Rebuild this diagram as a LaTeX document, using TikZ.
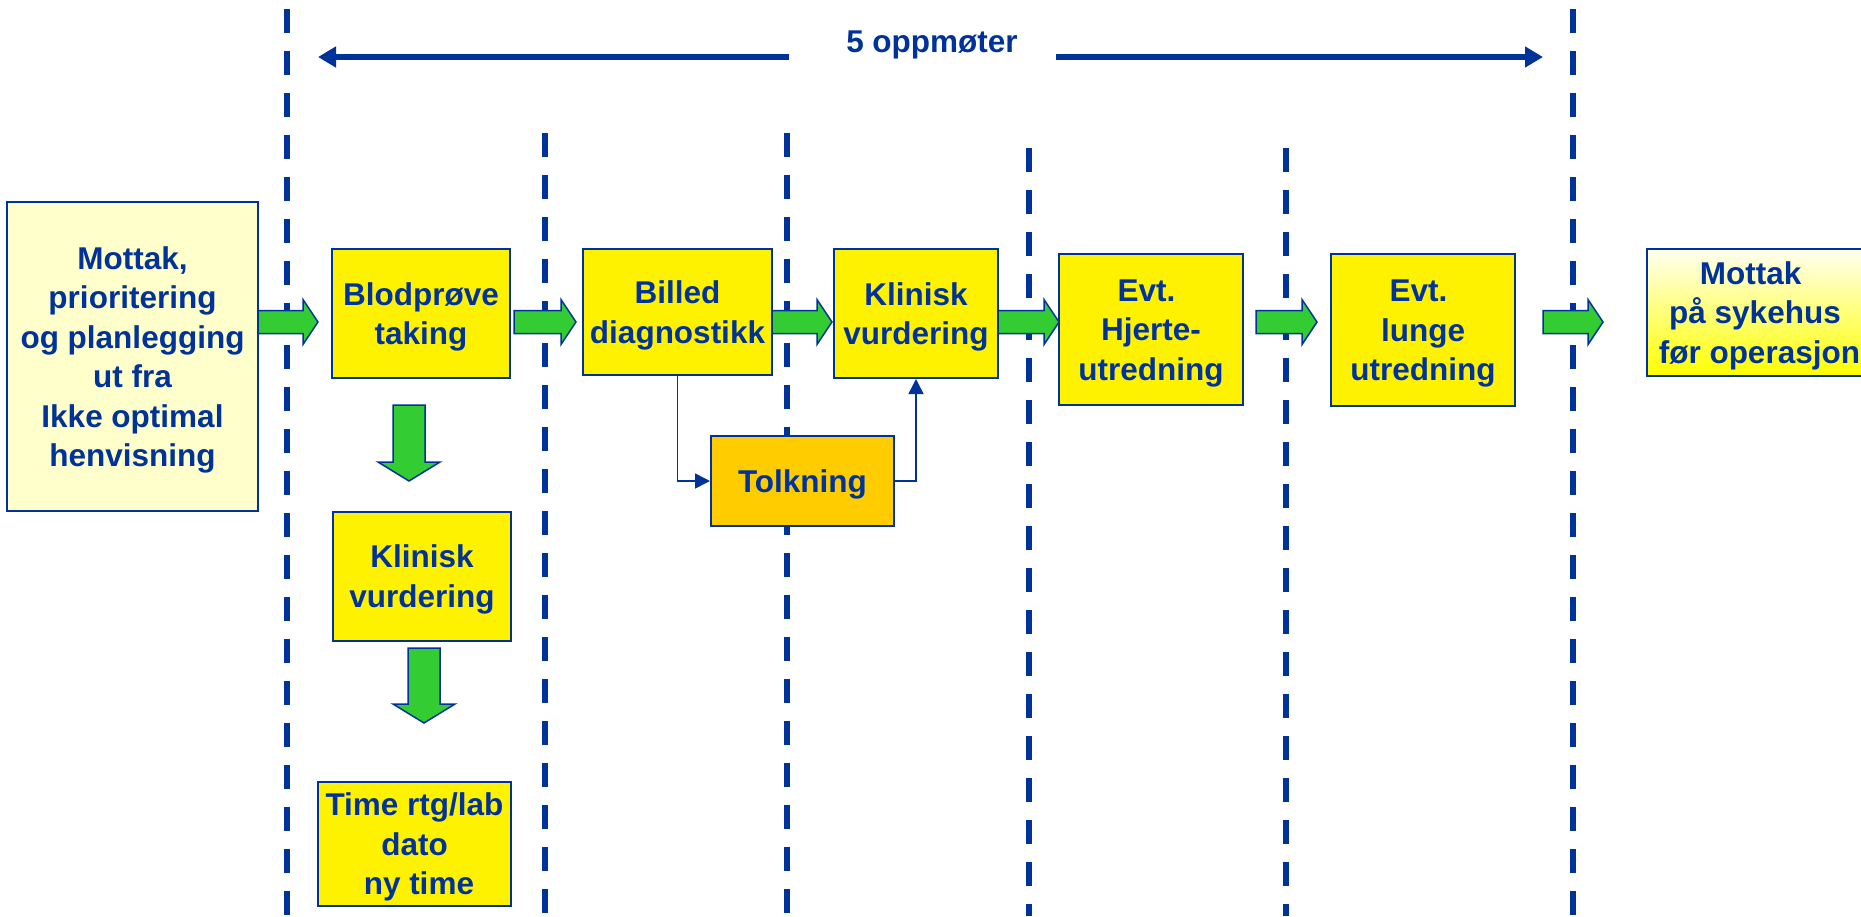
\documentclass[tikz,border=0pt]{standalone}
\usepackage{fontspec}
\setmainfont{Liberation Sans}
\usetikzlibrary{arrows.meta,calc}
\definecolor{navy}{RGB}{0,51,153}
\definecolor{grn}{RGB}{51,204,51}
\definecolor{pale}{RGB}{255,255,204}
\definecolor{orng}{RGB}{255,204,0}
\newcommand\tst{\rule{0pt}{29.5pt}}
\newcommand\bst{\rule[-6.7pt]{0pt}{0pt}}
\tikzset{
  box/.style={draw=navy, line width=2pt, fill=yellow, inner sep=0pt, align=center, text=navy,
    font=\fontsize{31.5}{39.5}\selectfont\bfseries},
  dline/.style={draw=navy, line width=6pt, dash pattern=on 24pt off 18pt},
  garrow/.style={fill=grn, draw=navy, line width=1.5pt, line join=miter},
  conn/.style={draw=navy, line width=1.5pt, -{Triangle[length=15pt,width=15pt]}},
  topar/.style={draw=navy, line width=6pt, -{Triangle[length=18pt,width=20pt]}},
  lbl/.style={text=navy, inner sep=0pt, font=\fontsize{31.5}{39.5}\selectfont\bfseries},
}
\newcommand\grarrow[3]{%
  \path[garrow] (#1,#3-11.5) -- (#2-15,#3-11.5) -- (#2-15,#3-22.5) -- (#2,#3)
    -- (#2-15,#3+22.5) -- (#2-15,#3+11.5) -- (#1,#3+11.5) -- cycle;}
\newcommand\gdarrow[3]{%
  \path[garrow] (#1-16,#2) -- (#1-16,#3-19) -- (#1-31,#3-19) -- (#1,#3)
    -- (#1+31,#3-19) -- (#1+16,#3-19) -- (#1+16,#2) -- cycle;}
\begin{document}
\begin{tikzpicture}[x=1pt,y=-1pt]
\useasboundingbox (0,0) rectangle (1861,916);
\fill[white] (0,0) rectangle (1861,916);
% dashed separators
\draw[dline] (287,9) -- (287,916);
\draw[dline] (545,133) -- (545,916);
\draw[dline] (787,133) -- (787,916);
\draw[dline] (1029,148) -- (1029,916);
\draw[dline] (1286,148) -- (1286,916);
\draw[dline] (1573,9) -- (1573,916);
% top span arrow
\node[lbl, anchor=base] (span) at (932,52) {5 oppmøter};
\coordinate (sl) at (789,57);
\coordinate (sr) at (1056,57);
\coordinate (tl) at (318,57);
\coordinate (tr) at (1543,57);
\draw[topar] (sl) -- (tl);
\draw[topar] (sr) -- (tr);
% boxes
\node[box, fill=pale, minimum width=251pt, minimum height=309pt] (recv) at (132.5,356.5)
  {\tst Mottak,\\prioritering\\og planlegging\\ut fra\\Ikke optimal\\henvisning\bst};
\node[box, minimum width=178pt, minimum height=129pt] (blod) at (421,313.5) {\tst Blodprøve\\taking\bst};
\node[box, minimum width=189pt, minimum height=126pt] (bild) at (677.5,312) {\tst Billed\\diagnostikk\bst};
\node[box, minimum width=164pt, minimum height=129pt] (klin) at (916,313.5) {\tst Klinisk\\vurdering\bst};
\node[box, minimum width=184pt, minimum height=151pt] (hjer) at (1151,329.5)
  {\tst Evt.\hspace*{0.28em}\\Hjerte-\hspace*{0.56em}\\utredning\bst};
\node[box, minimum width=184pt, minimum height=152pt] (lung) at (1423,330)
  {\tst Evt.\hspace*{0.28em}\\lunge\\utredning\bst};
\node[box, top color=yellow!6, bottom color=yellow, minimum width=216pt, minimum height=127pt] (mott) at (1755,312.5)
  {\tst Mottak\hspace*{0.28em}\\på sykehus\\\hspace*{0.28em}før operasjon\bst};
\node[box, fill=orng, minimum width=183pt, minimum height=90pt] (tolk) at (802.5,481) {\tst Tolkning\bst};
\node[box, minimum width=178pt, minimum height=129pt] (klin2) at (422,576) {\tst Klinisk\\vurdering\bst};
\node[box, minimum width=193pt, minimum height=124pt] (time) at (414.5,844)
  {\tst Time rtg/lab\\dato\\\hspace*{0.28em}ny time\bst};
% green block arrows
\grarrow{258}{318}{322}
\grarrow{514}{576}{322}
\grarrow{772}{832}{322}
\grarrow{998}{1059}{322}
\grarrow{1256}{1317}{322}
\grarrow{1543}{1603}{322}
\gdarrow{409}{405}{481}
\gdarrow{424}{648}{723}
% thin connectors
\draw[conn] (bild.south) |- (tolk.west);
\draw[conn] (tolk.east) -| (klin.south);
\end{tikzpicture}
\end{document}
